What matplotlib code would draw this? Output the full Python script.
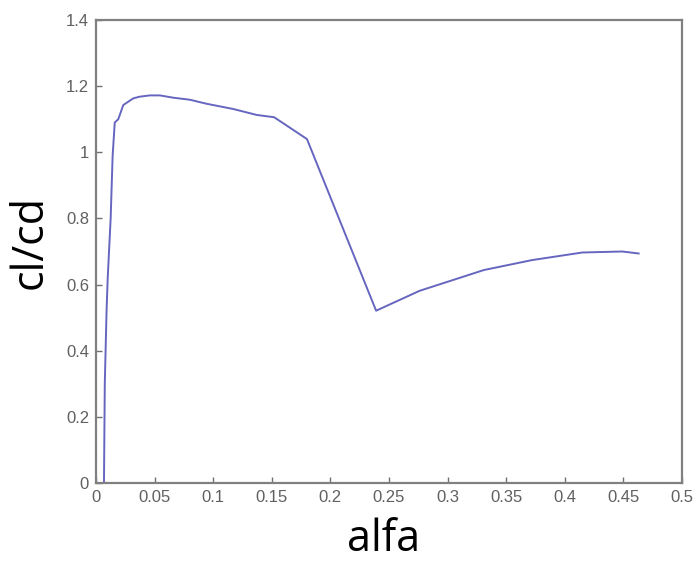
import matplotlib
matplotlib.use("Agg")
import matplotlib.pyplot as plt

# values
alfa = [0.0068, 0.0075, 0.0090, 0.0100, 0.0125, 0.0142, 0.0160, 0.0190,
        0.0233, 0.0318, 0.0370, 0.0460, 0.0545, 0.0660, 0.0800, 0.0940,
        0.1170, 0.1370, 0.1520, 0.1800, 0.2390, 0.2760, 0.3310, 0.3720,
        0.4150, 0.4490, 0.4630]
clcd = [0.000, 0.300, 0.520, 0.620, 0.800, 0.990, 1.090, 1.100,
        1.143, 1.163, 1.168, 1.172, 1.172, 1.165, 1.159, 1.147,
        1.131, 1.113, 1.106, 1.040, 0.521, 0.581, 0.644, 0.674,
        0.697, 0.700, 0.694]

xticks = [0, 0.05, 0.1, 0.15, 0.2, 0.25, 0.3, 0.35, 0.4, 0.45, 0.5]
xticklabels = ["0", "0.05", "0.1", "0.15", "0.2", "0.25", "0.3", "0.35", "0.4", "0.45", "0.5"]
yticks = [0, 0.2, 0.4, 0.6, 0.8, 1.0, 1.2, 1.4]
yticklabels = ["0", "0.2", "0.4", "0.6", "0.8", "1", "1.2", "1.4"]

fig = plt.figure(figsize=(6.97, 5.61), dpi=100)
ax = fig.add_axes([96 / 697, 78 / 561, 586 / 697, 463 / 561])

ax.plot(alfa, clcd, color="#6666c0", linewidth=1.4)

ax.set_xlim(0, 0.5)
ax.set_ylim(0, 1.4)
ax.set_xticks(xticks)
ax.set_xticklabels(xticklabels, fontfamily="Liberation Sans")
ax.set_yticks(yticks)
ax.set_yticklabels(yticklabels, fontfamily="Liberation Sans")
ax.tick_params(direction="in", length=4, width=1, color="#707070",
               labelsize=12, labelcolor="#606060", pad=5,
               top=False, right=False)

for side in ax.spines.values():
    side.set_color("#808080")
    side.set_linewidth(1.6)

ax.set_xlabel("alfa", fontsize=31, fontfamily="Open Sans")
ax.set_ylabel("cl/cd", fontsize=31, fontfamily="Open Sans")
# label centres (pixels -> axes fraction)
ax.xaxis.set_label_coords((384 - 96) / 586, (483 - 540) / 463)
ax.yaxis.set_label_coords((30 - 96) / 586, (483 - 242) / 463)
ax.xaxis.label.set_va("center")
ax.yaxis.label.set_va("center")

fig.savefig("out.png", dpi=100)
